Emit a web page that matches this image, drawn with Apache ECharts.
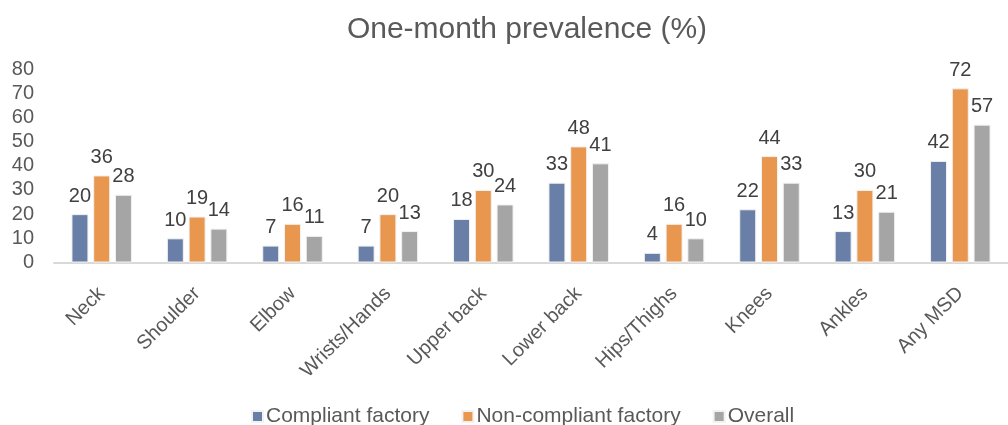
<!DOCTYPE html>
<html>
<head>
<meta charset="utf-8">
<script src="https://cdn.jsdelivr.net/npm/echarts@6/dist/echarts.min.js"></script>
<style>
  html, body { margin: 0; padding: 0; background: #fff; }
  #chart { width: 1008px; height: 425px; }
</style>
</head>
<body>
<div id="chart"></div>
<script>
const categories = ['Neck', 'Shoulder', 'Elbow', 'Wrists/Hands', 'Upper back', 'Lower back', 'Hips/Thighs', 'Knees', 'Ankles', 'Any MSD'];
const compliant = [20, 10, 7, 7, 18, 33, 4, 22, 13, 42];
const nonCompliant = [36, 19, 16, 20, 30, 48, 16, 44, 30, 72];
const overall = [28, 14, 11, 13, 24, 41, 10, 33, 21, 57];

const myChart = echarts.init(document.getElementById('chart'));
const font = 'Liberation Sans, Arial, sans-serif';

function barSeries(name, data, color) {
  return {
    name: name,
    type: 'bar',
    data: data,
    barWidth: 17,
    barGap: '28%',
    itemStyle: { color: color, borderColor: '#f2f2f2', borderWidth: 1 },
    label: {
      show: true,
      position: 'top',
      distance: 8,
      color: '#404040',
      fontSize: 20,
      fontFamily: font
    }
  };
}

const option = {
  animation: false,
  title: {
    text: 'One-month prevalence (%)',
    left: 522,
    textAlign: 'center',
    top: 10,
    textStyle: { color: '#595959', fontSize: 30, fontWeight: 'normal', fontFamily: font }
  },
  legend: {
    top: 401,
    left: 246,
    itemWidth: 11,
    itemHeight: 11,
    itemGap: 32,
    icon: 'rect',
    textStyle: { color: '#595959', fontSize: 21, fontFamily: font, padding: [0, 0, 0, -2] },
    data: ['Compliant factory', 'Non-compliant factory', 'Overall']
  },
  grid: { left: 54, top: 69, width: 967, height: 193.5, containLabel: false },
  xAxis: {
    type: 'category',
    data: categories,
    axisLine: { lineStyle: { color: '#d9d9d9', width: 2 } },
    axisTick: { show: false },
    axisLabel: { rotate: 45, color: '#595959', fontSize: 20, fontFamily: font, margin: 28, interval: 0 }
  },
  yAxis: {
    type: 'value',
    min: 0,
    max: 80,
    interval: 10,
    axisLine: { show: false },
    axisTick: { show: false },
    splitLine: { show: false },
    axisLabel: { color: '#595959', fontSize: 20, fontFamily: font, margin: 20 }
  },
  series: [
    barSeries('Compliant factory', compliant, '#6a7fa8'),
    barSeries('Non-compliant factory', nonCompliant, '#e9964f'),
    barSeries('Overall', overall, '#a5a5a5')
  ]
};
myChart.setOption(option);
</script>
</body>
</html>
